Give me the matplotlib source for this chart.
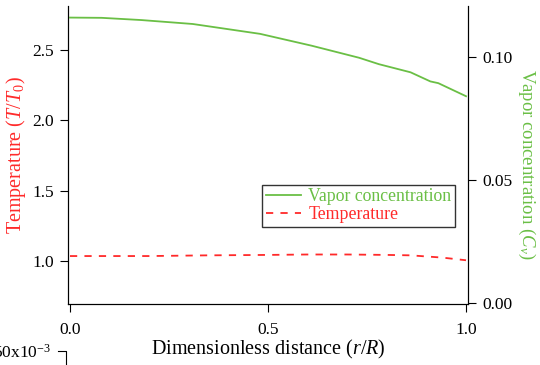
import numpy as np
import matplotlib.pyplot as plt
from matplotlib.lines import Line2D

plt.rcParams['font.family'] = 'Liberation Serif'
plt.rcParams['mathtext.fontset'] = 'custom'
plt.rcParams['mathtext.rm'] = 'Liberation Serif'
plt.rcParams['mathtext.it'] = 'Liberation Serif:italic'

# data
r = [0.0, 0.08, 0.18, 0.31, 0.48, 0.61, 0.73, 0.78, 0.86, 0.91, 0.93, 1.0]
vapor = [0.1159, 0.1158, 0.1149, 0.1133, 0.1093, 0.1045, 0.0996, 0.0970,
         0.0937, 0.0900, 0.0893, 0.0840]

r_t = [0.0, 0.2, 0.35, 0.5, 0.6, 0.7, 0.8, 0.86, 0.94, 1.0]
temp = [1.035, 1.035, 1.040, 1.043, 1.046, 1.046, 1.043, 1.040, 1.024, 1.005]

green = '#6abf45'
red = '#ff2a2a'

fig = plt.figure(figsize=(5.4, 3.65), dpi=100)
ax1 = fig.add_axes([68/540, 1 - 304/365, 400/540, 298/365])
ax2 = ax1.twinx()

l2, = ax2.plot(r, vapor, '-', color=green, lw=1.3, label='Vapor concentration')
l1, = ax1.plot(r_t, temp, '--', color=red, lw=1.3, dashes=(4, 4), label='Temperature')

ax1.set_xlim(-0.005, 1.005)
ax1.set_ylim(0.694, 2.813)
ax2.set_ylim(-0.0003, 0.1206)

ax1.set_xticks([0.0, 0.5, 1.0])
ax1.set_xticklabels(['0.0', '0.5', '1.0'])
ax1.set_yticks([1.0, 1.5, 2.0, 2.5])
ax1.set_yticklabels(['1.0', '1.5', '2.0', '2.5'])
ax2.set_yticks([0.0, 0.05, 0.10])
ax2.set_yticklabels(['0.00', '0.05', '0.10'])

for a in (ax1, ax2):
    a.spines['top'].set_visible(False)
    a.tick_params(direction='out', length=6, width=0.8, labelsize=12.5, pad=4)
ax1.tick_params(axis='x', pad=7)

ax1.set_xlabel('Dimensionless distance ($r/R$)', fontsize=14.5, labelpad=0)
ax1.set_ylabel('Temperature ($T/T_0$)', fontsize=14.5, color=red, labelpad=3)
ax2.set_ylabel('Vapor concentration ($C_v$)', fontsize=13.5, color=green,
               rotation=270, va='center')
ax2.yaxis.set_label_coords(1.147, 0.47)

leg = ax1.legend([l2, l1], ['Vapor concentration', 'Temperature'],
                 loc='upper left', bbox_to_anchor=(0.485, 0.4), borderaxespad=0,
                 fontsize=12.8, frameon=True, fancybox=False, shadow=False,
                 handlelength=2.0, handletextpad=0.4, borderpad=0.2,
                 labelspacing=0.05)
leg.get_frame().set_edgecolor('black')
leg.get_frame().set_linewidth(1.0)
for txt, c in zip(leg.get_texts(), [green, red]):
    txt.set_color(c)

# stray axis label cut off at the lower left edge
fig.text(51/540, 1 - 358/365, '50x10$^{-3}$', ha='right', va='baseline', fontsize=12.5)
fig.add_artist(Line2D([58/540, 66/540, 66/540], [1 - 351/365, 1 - 351/365, 0],
                      color='black', lw=0.8))

fig.savefig('out.png', dpi=100)
